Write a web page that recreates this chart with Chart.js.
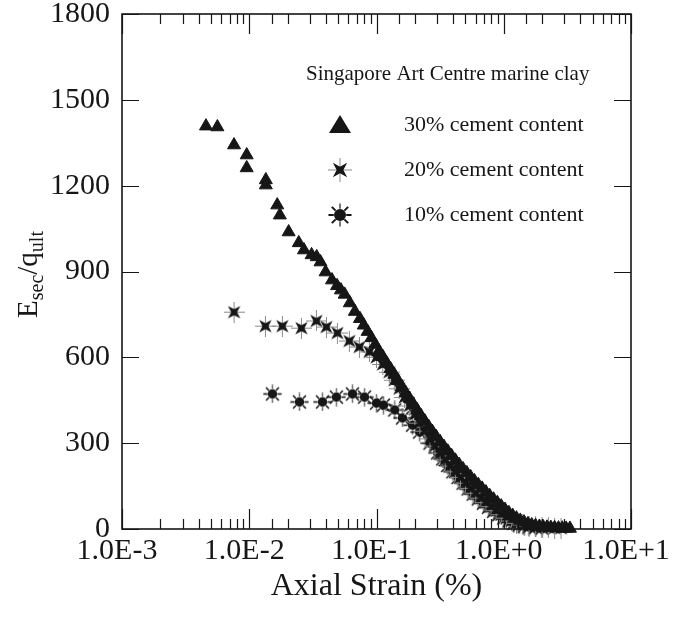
<!DOCTYPE html>
<html>
<head>
<meta charset="utf-8">
<script src="https://cdn.jsdelivr.net/npm/chart.js@4.4.1/dist/chart.umd.min.js"></script>
<style>
    body { margin: 0; background: #fff; }
    canvas { display: block; }
</style>
</head>
<body>
<canvas id="canvaRigidez" width="673" height="620"></canvas>
<script>
// Datos (deformacion axial en %, Esec/qult)
const etiquetas = ['30% cement content', '20% cement content', '10% cement content'];
const tituloLeyenda = 'Singapore Art Centre marine clay';
const tituloX = 'Axial Strain (%)';
const ticksY = [0, 300, 600, 900, 1200, 1500, 1800];

const deformacion30 = [0.00457, 0.00562, 0.00759, 0.00955, 0.00955, 0.0135, 0.0135, 0.0166, 0.0174, 0.0204,
    0.0245, 0.0269, 0.0309, 0.0339, 0.0363, 0.0398, 0.0447, 0.0490, 0.0525, 0.0562,
    0.0617, 0.0676, 0.0741, 0.0794, 0.0851, 0.0912, 0.0977, 0.1047, 0.1122, 0.1202,
    0.1288, 0.1380, 0.1479, 0.1585, 0.1698, 0.1820, 0.1950, 0.2089, 0.2239, 0.2399,
    0.2570, 0.2754, 0.2951, 0.3162, 0.3388, 0.3631, 0.3890, 0.4169, 0.4467, 0.4786,
    0.5129, 0.5495, 0.5888, 0.6310, 0.6761, 0.7244, 0.7762, 0.8318, 0.8913, 0.9550,
    1.023, 1.096, 1.175, 1.259, 1.349, 1.445, 1.549, 1.660, 1.778, 1.905,
    2.042, 2.188, 2.344, 2.512, 2.692, 2.884, 3.090, 3.311];
const rigidez30 = [1408, 1405, 1342, 1307, 1262, 1220, 1202, 1132, 1097, 1038,
    1000, 975, 958, 951, 933, 898, 870, 850, 835, 820,
    790, 760, 735, 712, 690, 668, 645, 622, 602, 580,
    560, 540, 518, 497, 476, 456, 436, 416, 396, 377,
    358, 340, 322, 305, 288, 272, 256, 240, 225, 210,
    196, 182, 168, 155, 142, 129, 116, 104, 92, 80,
    68, 57, 47, 38, 30, 24, 18, 14, 11, 9,
    7, 6, 5, 4, 3, 3, 2, 2];

const deformacion20 = [0.0076, 0.0134, 0.0182, 0.0257, 0.0337, 0.0404, 0.0493, 0.0612, 0.0734, 0.088,
    0.100, 0.112, 0.126, 0.138, 0.151, 0.166, 0.182, 0.200, 0.219, 0.240,
    0.263, 0.288, 0.316, 0.347, 0.380, 0.417, 0.457, 0.501, 0.550, 0.603,
    0.661, 0.724, 0.794, 0.871, 0.955, 1.05, 1.15, 1.26, 1.41, 1.58,
    1.78, 2.00, 2.24, 2.51, 2.82];
const rigidez20 = [758, 709, 709, 702, 727, 706, 685, 657, 636, 619,
    600, 575, 548, 520, 490, 460, 430, 400, 370, 342,
    315, 290, 265, 242, 220, 200, 180, 160, 142, 125,
    108, 92, 78, 64, 50, 38, 28, 20, 14, 10,
    7, 5, 4, 3, 2];

const deformacion10 = [0.0152, 0.0248, 0.0376, 0.0484, 0.0647, 0.0805, 0.100, 0.1135, 0.139, 0.160,
    0.192, 0.218, 0.263, 0.302, 0.331, 0.363, 0.398, 0.437, 0.479, 0.525,
    0.575, 0.631, 0.692, 0.759, 0.832, 0.912, 1.00, 1.10, 1.20, 1.32,
    1.45, 1.58, 1.78, 2.00];
const rigidez10 = [472, 444, 444, 461, 472, 461, 440, 433, 416, 388,
    363, 339, 300, 266, 245, 222, 200, 180, 160, 140,
    122, 105, 90, 76, 62, 50, 38, 28, 20, 14,
    10, 7, 5, 3];

const fuente = '"Liberation Serif", "DejaVu Serif", serif';
const negro = '#161616';

function puntos(xs, ys) {
    return xs.map((x, i) => ({ x: x, y: ys[i] }));
}

// marcadores dibujados en canvas aparte
function estrella20(tam) {
    const c = document.createElement('canvas');
    c.width = c.height = tam;
    const g = c.getContext('2d');
    const m = tam / 2;
    g.strokeStyle = '#8a8a8a';
    g.lineWidth = 1;
    g.beginPath();
    g.moveTo(m, 0); g.lineTo(m, tam);
    g.moveTo(0, m); g.lineTo(tam, m);
    g.stroke();
    g.fillStyle = negro;
    g.beginPath();
    for (let i = 0; i < 8; i++) {
        const ang = Math.PI / 4 + i * Math.PI / 4;
        const r = i % 2 === 0 ? tam * 0.42 : tam * 0.14;
        g.lineTo(m + r * Math.cos(ang), m + r * Math.sin(ang));
    }
    g.closePath();
    g.fill();
    return c;
}

function sol10(tam) {
    const c = document.createElement('canvas');
    c.width = c.height = tam;
    const g = c.getContext('2d');
    const m = tam / 2;
    g.fillStyle = negro;
    g.beginPath();
    g.arc(m, m, tam * 0.25, 0, Math.PI * 2);
    g.fill();
    g.lineWidth = Math.max(1.3, tam / 12);
    for (let i = 0; i < 8; i++) {
        const ang = i * Math.PI / 4;
        g.strokeStyle = (i === 2 || i === 6) ? '#777' : negro;
        g.beginPath();
        g.moveTo(m + tam * 0.26 * Math.cos(ang), m + tam * 0.26 * Math.sin(ang));
        g.lineTo(m + tam * 0.48 * Math.cos(ang), m + tam * 0.48 * Math.sin(ang));
        g.stroke();
    }
    return c;
}

const marcas = {
    estrella: estrella20(21),
    sol: sol10(19),
    estrellaLey: estrella20(24),
    solLey: sol10(24)
};

// marco con ticks hacia adentro
const marcoTicks = {
    id: 'marcoTicks',
    afterDraw(chart) {
        const { ctx, chartArea: a, scales: { x, y } } = chart;
        ctx.save();
        ctx.strokeStyle = negro;
        ctx.lineWidth = 1.6;
        ctx.strokeRect(a.left, a.top, a.right - a.left, a.bottom - a.top);
        ctx.lineWidth = 1.2;
        ctx.beginPath();
        x.ticks.forEach(t => {
            const px = Math.round(x.getPixelForValue(t.value)) + 0.5;
            const e = Math.log10(t.value);
            const mayor = Math.abs(e - Math.round(e)) < 1e-6;
            const largo = mayor ? 20 : 10;
            ctx.moveTo(px, a.bottom); ctx.lineTo(px, a.bottom - largo);
            ctx.moveTo(px, a.top); ctx.lineTo(px, a.top + largo);
        });
        ticksY.forEach(v => {
            const py = Math.round(y.getPixelForValue(v)) + 0.5;
            ctx.moveTo(a.left, py); ctx.lineTo(a.left + 17, py);
            ctx.moveTo(a.right, py); ctx.lineTo(a.right - 17, py);
        });
        ctx.stroke();
        ctx.restore();
    }
};

// titulo del eje Y con subindices: Esec/qult
const tituloY = {
    id: 'tituloY',
    afterDraw(chart) {
        const { ctx, chartArea: a } = chart;
        const partes = [
            { t: 'E', sub: false }, { t: 'sec', sub: true },
            { t: '/q', sub: false }, { t: 'ult', sub: true }
        ];
        ctx.save();
        ctx.fillStyle = negro;
        ctx.textBaseline = 'alphabetic';
        let total = 0;
        partes.forEach(p => {
            ctx.font = (p.sub ? '20px ' : '29px ') + fuente;
            p.w = ctx.measureText(p.t).width;
            total += p.w;
        });
        ctx.translate(37, (a.top + a.bottom) / 2 + 3);
        ctx.rotate(-Math.PI / 2);
        let pos = -total / 2;
        partes.forEach(p => {
            ctx.font = (p.sub ? '20px ' : '29px ') + fuente;
            ctx.fillText(p.t, pos, p.sub ? 6 : 0);
            pos += p.w;
        });
        ctx.restore();
    }
};

// leyenda dentro del area del grafico
const leyenda = {
    id: 'leyendaInterna',
    afterDraw(chart) {
        const { ctx } = chart;
        ctx.save();
        ctx.fillStyle = negro;
        ctx.textBaseline = 'middle';
        ctx.font = '21px ' + fuente;
        ctx.fillText(tituloLeyenda, 306, 74);
        ctx.font = '22px ' + fuente;
        const filas = [125, 170, 215];
        filas.forEach((yy, i) => {
            ctx.fillText(etiquetas[i], 404, yy);
        });
        // triangulo
        ctx.beginPath();
        ctx.moveTo(340, filas[0] - 10);
        ctx.lineTo(351, filas[0] + 8);
        ctx.lineTo(329, filas[0] + 8);
        ctx.closePath();
        ctx.fill();
        ctx.drawImage(marcas.estrellaLey, 340 - 12, filas[1] - 12);
        ctx.drawImage(marcas.solLey, 340 - 12, filas[2] - 12);
        ctx.restore();
    }
};

function etiquetaDecada(valor) {
    const e = Math.log10(valor);
    const r = Math.round(e);
    if (Math.abs(e - r) > 1e-6) return '';
    return '1.0E' + (r >= 0 ? '+' : '-') + Math.abs(r);
}

window.addEventListener('DOMContentLoaded', () => {
    const canvas = document.getElementById('canvaRigidez').getContext('2d');
    new Chart(canvas, {
        type: 'scatter',
        data: {
            datasets: [{
                label: etiquetas[0],
                data: puntos(deformacion30, rigidez30),
                pointStyle: 'triangle',
                pointRadius: 7.5,
                backgroundColor: negro,
                borderColor: negro,
                borderWidth: 1,
                clip: false
            }, {
                label: etiquetas[1],
                data: puntos(deformacion20, rigidez20),
                pointStyle: marcas.estrella,
                clip: false
            }, {
                label: etiquetas[2],
                data: puntos(deformacion10, rigidez10),
                pointStyle: marcas.sol,
                clip: false
            }]
        },
        options: {
            responsive: false,
            animation: false,
            events: [],
            layout: { padding: { top: 14, right: 42, left: 0, bottom: 0 } },
            scales: {
                x: {
                    type: 'logarithmic',
                    min: 0.001,
                    max: 10,
                    grid: { display: false, drawTicks: false },
                    border: { display: false },
                    ticks: {
                        autoSkip: false,
                        maxRotation: 0,
                        color: negro,
                        padding: 4,
                        labelOffset: -5,
                        font: { family: fuente, size: 30 },
                        callback: (v) => etiquetaDecada(v)
                    },
                    title: {
                        display: true,
                        text: tituloX,
                        color: negro,
                        font: { family: fuente, size: 32 },
                        padding: { top: 0, bottom: 14 }
                    },
                    afterFit(s) {
                        s.height = 91;
                        s.paddingLeft = 0;
                        s.paddingRight = 0;
                    }
                },
                y: {
                    min: 0,
                    max: 1800,
                    grid: { display: false, drawTicks: false },
                    border: { display: false },
                    ticks: {
                        stepSize: 300,
                        color: negro,
                        padding: 12,
                        font: { family: fuente, size: 30 },
                        callback: (v) => String(v)
                    },
                    afterFit(s) {
                        s.width = 122;
                        s.paddingTop = 0;
                        s.paddingBottom = 0;
                    }
                }
            },
            plugins: {
                legend: { display: false },
                tooltip: { enabled: false }
            }
        },
        plugins: [marcoTicks, tituloY, leyenda]
    });
});
</script>
</body>
</html>
